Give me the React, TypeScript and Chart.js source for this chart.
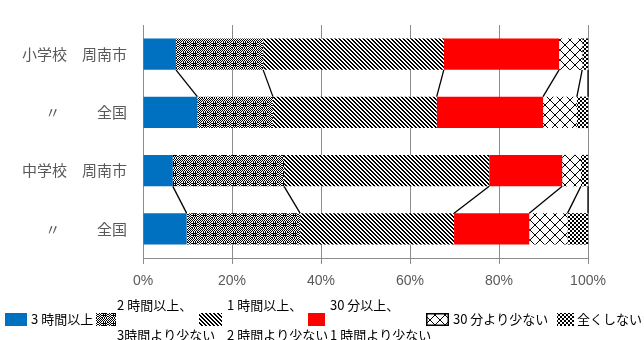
import React, { useEffect, useRef } from 'react';
import { Chart, registerables } from 'chart.js';

Chart.register(...registerables);

// ---- data ----
const CATEGORIES = ['小学校　周南市', '〃　　  全国', '中学校　周南市', '〃　　  全国'];
const SERIES_LABELS = [
  '3 時間以上',
  '2 時間以上、3時間より少ない',
  '1 時間以上、2 時間より少ない',
  '30 分以上、1 時間より少ない',
  '30 分より少ない',
  '全くしない',
];
const V_3H_PLUS = [7.4, 12.2, 6.7, 9.8];
const V_2H_3H = [19.6, 17.0, 25.0, 25.5];
const V_1H_2H = [40.6, 36.8, 46.1, 34.6];
const V_30M_1H = [25.9, 23.9, 16.4, 16.9];
const V_UNDER_30M = [5.2, 7.6, 4.2, 8.6];
const V_NONE = [1.3, 2.5, 1.6, 4.6];
const X_TICK_MIN = 0;
const X_TICK_MAX = 100;
const X_TICK_STEP = 20;
const PAIRS = [
  [0, 1],
  [2, 3],
];

// ---- layout constants ----
const LEGEND_SWATCH_X = [5, 96, 199, 308, 426, 557];
const LEGEND_SWATCH_W = [22, 20, 23, 17, 23, 17];
const LEGEND_TEXT_X = [31, 117, 227, 330, 453, 577];

function makeTile(w: number, h: number, fn: (x: number, y: number) => boolean) {
  const c = document.createElement('canvas');
  c.width = w;
  c.height = h;
  const g = c.getContext('2d')!;
  g.fillStyle = '#ffffff';
  g.fillRect(0, 0, w, h);
  g.fillStyle = '#000000';
  for (let y = 0; y < h; y++) for (let x = 0; x < w; x++) if (fn(x, y)) g.fillRect(x, y, 1, 1);
  return c;
}

function makePatterns(ctx: CanvasRenderingContext2D) {
  const weave = makeTile(10, 10, (x, y) => {
    const inBlock = x >= 3 && x <= 6 && y >= 3 && y <= 6;
    const ring = x >= 2 && x <= 7 && y >= 2 && y <= 7 && !inBlock;
    if (inBlock) return x % 2 === 1 || y % 2 === 1;
    if (ring) return (x + y) % 2 === 1;
    return (x + y) % 2 === 0;
  });
  const diag = makeTile(4, 4, (x, y) => (((x - y) % 4) + 4) % 4 < 2);
  const diamond = makeTile(10, 10, (x, y) => x === y || x + y === 9);
  const checker = makeTile(4, 4, (x, y) => ((x >> 1) + (y >> 1)) % 2 === 0);
  return [
    '#0070C0',
    ctx.createPattern(weave, 'repeat')!,
    ctx.createPattern(diag, 'repeat')!,
    '#FF0000',
    ctx.createPattern(diamond, 'repeat')!,
    ctx.createPattern(checker, 'repeat')!,
  ];
}

const seriesLinesPlugin = {
  id: 'seriesLines',
  afterDatasetsDraw(chart: any) {
    const ctx = chart.ctx;
    ctx.save();
    ctx.strokeStyle = '#000000';
    ctx.lineWidth = 1.3;
    chart.data.datasets.forEach((_: any, i: number) => {
      const meta = chart.getDatasetMeta(i);
      PAIRS.forEach(([a, b]) => {
        const ea = meta.data[a];
        const eb = meta.data[b];
        if (!ea || !eb) return;
        ctx.beginPath();
        ctx.moveTo(ea.x, ea.y + ea.height / 2);
        ctx.lineTo(eb.x, eb.y - eb.height / 2);
        ctx.stroke();
      });
    });
    ctx.restore();
  },
};

const customLegendPlugin = {
  id: 'customLegend',
  afterDraw(chart: any) {
    const ctx = chart.ctx;
    ctx.save();
    ctx.font = '13px "Noto Sans CJK JP"';
    ctx.textBaseline = 'middle';
    ctx.textAlign = 'left';
    chart.data.datasets.forEach((ds: any, i: number) => {
      const sx = LEGEND_SWATCH_X[i];
      const sw = LEGEND_SWATCH_W[i];
      const sy = 313;
      const sh = 13;
      ctx.fillStyle = ds.backgroundColor;
      ctx.fillRect(sx, sy, sw, sh);
      if (i === 4) {
        ctx.strokeStyle = '#000';
        ctx.lineWidth = 1.5;
        ctx.strokeRect(sx + 0.75, sy + 0.75, sw - 1.5, sh - 1.5);
      }
      ctx.fillStyle = '#000000';
      const lines: string[] = String(ds.label).split(/(?<=、)/);
      const tx = LEGEND_TEXT_X[i];
      if (lines.length === 1) {
        ctx.fillText(lines[0], tx, 319);
      } else {
        ctx.fillText(lines[0], tx, 305);
        ctx.fillText(lines[1], tx, 335);
      }
    });
    ctx.restore();
  },
};

export default function App() {
  const ref = useRef<HTMLCanvasElement>(null);
  useEffect(() => {
    const canvas = ref.current!;
    const ctx = canvas.getContext('2d')!;
    const colors = makePatterns(ctx);
    const values = [V_3H_PLUS, V_2H_3H, V_1H_2H, V_30M_1H, V_UNDER_30M, V_NONE];
    const chart = new Chart(canvas, {
      type: 'bar',
      data: {
        labels: CATEGORIES,
        datasets: values.map((v, i) => ({
          label: SERIES_LABELS[i],
          data: v,
          backgroundColor: colors[i] as any,
          borderWidth: 0,
          barPercentage: 0.54,
          categoryPercentage: 1,
        })),
      },
      options: {
        indexAxis: 'y',
        responsive: false,
        animation: false,
        devicePixelRatio: 1,
        layout: { padding: { top: 20, right: 56, bottom: 50, left: 0 } },
        plugins: { legend: { display: false }, tooltip: { enabled: false } },
        scales: {
          x: {
            stacked: true,
            min: X_TICK_MIN,
            max: X_TICK_MAX,
            ticks: {
              stepSize: X_TICK_STEP,
              callback: (v: any) => v + '%',
              color: '#595959',
              font: { size: 14, family: '"Liberation Sans", Arial, sans-serif' },
              padding: 9,
              maxRotation: 0,
            },
            grid: { color: '#8c8c8c', lineWidth: 1, drawTicks: true, tickLength: 6, tickColor: '#8c8c8c' },
            border: { display: true, color: '#8c8c8c', width: 1 },
            afterFit: (scale: any) => {
              scale.height = 32;
            },
          },
          y: {
            stacked: true,
            ticks: {
              color: '#595959',
              font: { size: 15, family: '"Noto Sans CJK JP", sans-serif' },
              padding: 16,
            },
            grid: { display: false, drawTicks: false },
            border: { display: true, color: '#8c8c8c', width: 1 },
            afterFit: (scale: any) => {
              scale.width = 143;
            },
          },
        },
      },
      plugins: [seriesLinesPlugin, customLegendPlugin],
    });
    return () => chart.destroy();
  }, []);
  return (
    <div style={{ position: 'fixed', left: 0, top: 0, width: 644, height: 340, background: '#fff' }}>
      <canvas ref={ref} width={644} height={340} style={{ display: 'block' }} />
    </div>
  );
}
